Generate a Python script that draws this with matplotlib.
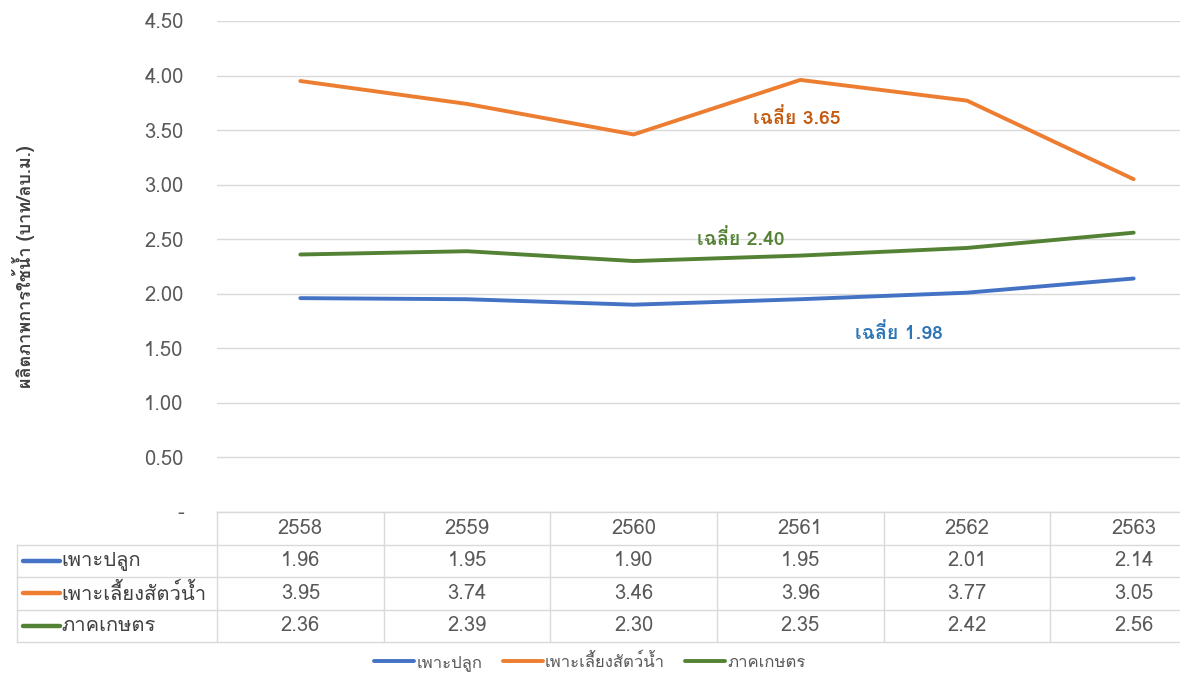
import matplotlib
matplotlib.use("Agg")
import matplotlib.pyplot as plt
from matplotlib import font_manager
from matplotlib.ft2font import FT2Font

years = ["2558", "2559", "2560", "2561", "2562", "2563"]
series_names = ["เพาะปลูก", "เพาะเลี้ยงสัตว์น้ำ", "ภาคเกษตร"]
crop = [1.96, 1.95, 1.90, 1.95, 2.01, 2.14]
aqua = [3.95, 3.74, 3.46, 3.96, 3.77, 3.05]
agri = [2.36, 2.39, 2.30, 2.35, 2.42, 2.56]
averages = [1.98, 3.65, 2.40]
yticks = [0.0, 0.5, 1.0, 1.5, 2.0, 2.5, 3.0, 3.5, 4.0, 4.5]
ylabel = "ผลิตภาพการใช้น้ำ (บาท/ลบ.ม.)"

COLORS = ["#4472C4", "#ED7D31", "#548235"]
AVG_COLORS = ["#2E75B6", "#C55A11", "#548235"]


def thai_font():
    # first installed font that actually has Thai glyphs
    for f in font_manager.fontManager.ttflist:
        try:
            ft = FT2Font(f.fname)
            if ft.get_char_index(0x0E01) and ft.get_char_index(0x0E49):
                return f.name
        except Exception:
            continue
    return None


th = thai_font()
plt.rcParams["font.family"] = ([th] if th else []) + ["DejaVu Sans"]

W, H = 1180, 676
fig = plt.figure(figsize=(W / 100, H / 100), dpi=100)

# plot area: x=-0.5..5.5 spans px 217..1217 (right part is cropped), y 0..4.5 spans px 512..21
left = 217 / W
width = 1000 / W
ax = fig.add_axes([left, 1 - 512 / H, width, (512 - 21) / H])
x = list(range(len(years)))
handles = []
for vals, name, col in zip([crop, aqua, agri], series_names, COLORS):
    h, = ax.plot(x, vals, color=col, lw=2.8, solid_capstyle="round", label=name)
    handles.append(h)
ax.set_xlim(-0.5, 5.5)
ax.set_ylim(0, 4.5)
ax.set_yticks(yticks)
ax.set_yticklabels(["-" if v == 0 else f"{v:.2f}" for v in yticks],
                   color="#595959", fontsize=14.5)
ax.tick_params(axis="y", length=0, pad=24)
ax.set_xticks([])
ax.grid(axis="y", color="#D9D9D9", lw=1)
for s in ax.spines.values():
    s.set_visible(False)
ax.set_ylabel(ylabel, fontsize=13, color="#404040", fontweight="bold")
ax.yaxis.set_label_coords(-0.182, 0.5)

# average annotations
ax.text(2.98, 3.61, f"เฉลี่ย {averages[1]:.2f}", color=AVG_COLORS[1], fontsize=14,
        fontweight="bold", ha="center", va="center")
ax.text(2.64, 2.50, f"เฉลี่ย {averages[2]:.2f}", color=AVG_COLORS[2], fontsize=14,
        fontweight="bold", ha="center", va="center")
ax.text(3.59, 1.64, f"เฉลี่ย {averages[0]:.2f}", color=AVG_COLORS[0], fontsize=14,
        fontweight="bold", ha="center", va="center")

# data table below the plot, rows 32.5 px high
tab = fig.add_axes([left, 1 - 642 / H, width, 130 / H])
tab.set_xlim(-0.5, 5.5)
tab.set_ylim(4, 0)
tab.axis("off")
grid = dict(color="#D9D9D9", lw=1, clip_on=False)
lab_x0 = -0.5 - 200 / (1000 / 6)
tab.plot([-0.5, 5.5], [0, 0], **grid)
for r in range(1, 5):
    tab.plot([lab_x0, 5.5], [r, r], **grid)
tab.plot([lab_x0, lab_x0], [1, 4], **grid)
for c in range(7):
    tab.plot([c - 0.5, c - 0.5], [0, 4], **grid)
for i, yr in enumerate(years):
    tab.text(i, 0.5, yr, ha="center", va="center", color="#595959", fontsize=14.5)
for r, (vals, name, col) in enumerate(zip([crop, aqua, agri], series_names, COLORS), start=1):
    for i, v in enumerate(vals):
        tab.text(i, r + 0.5, f"{v:.2f}", ha="center", va="center",
                 color="#595959", fontsize=14.5)
    tab.plot([lab_x0 + 0.035, lab_x0 + 0.26], [r + 0.5, r + 0.5], color=col, lw=3.2,
             clip_on=False, solid_capstyle="round")
    tab.text(lab_x0 + 0.265, r + 0.5, name, ha="left", va="center",
             color="#404040", fontsize=14.5)

fig.legend(handles=handles, loc="center", bbox_to_anchor=(590 / W, 1 - 662 / H),
           ncol=3, frameon=False, fontsize=12, handlelength=2.4, handletextpad=0.15,
           columnspacing=1.2, labelcolor="#595959")

fig.savefig("out.png", dpi=100)
